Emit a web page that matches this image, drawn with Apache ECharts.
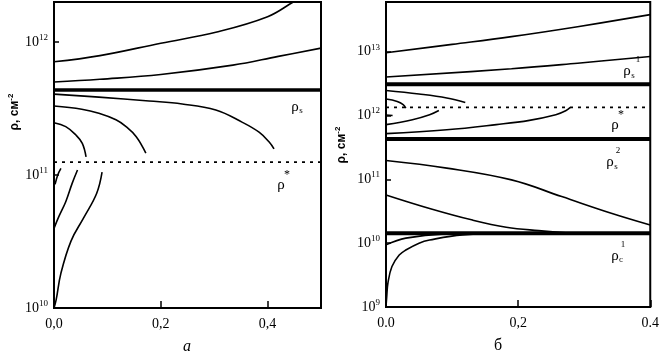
<!DOCTYPE html>
<html>
<head>
<meta charset="utf-8">
<script src="https://cdn.jsdelivr.net/npm/echarts@6/dist/echarts.min.js"></script>
<style>
html, body {margin:0; padding:0; background:#fff;}
#chart {width:662px; height:358px;}
</style>
</head>
<body>
<div id="chart"></div>
<script>
// panel a
var xTicksA = ['0,0', '0,2', '0,4'];
var yExpA = [10, 11, 12];
var rhoSA = 4.35e11;
var rhoStarA = 1.25e11;
var aUp1 = [[0, 7.1e11], [0.086, 7.9e11], [0.2, 9.8e11], [0.305, 1.19e12], [0.4, 1.55e12], [0.448, 2.0e12], [0.47, 2.25e12]];
var aUp2 = [[0, 5.0e11], [0.086, 5.25e11], [0.2, 5.7e11], [0.335, 6.7e11], [0.42, 7.8e11], [0.5, 9.0e11]];
var aDn1 = [[0, 4.06e11], [0.084, 3.85e11], [0.178, 3.6e11], [0.24, 3.42e11], [0.303, 3.08e11], [0.352, 2.5e11], [0.384, 2.1e11], [0.403, 1.77e11], [0.412, 1.57e11]];
var aDn2 = [[0, 3.3e11], [0.052, 3.12e11], [0.084, 2.91e11], [0.116, 2.6e11], [0.135, 2.31e11], [0.154, 1.94e11], [0.172, 1.46e11]];
var aDn3 = [[0, 2.47e11], [0.022, 2.31e11], [0.041, 2.0e11], [0.053, 1.73e11], [0.06, 1.37e11]];
var aLo1 = [[0.002, 8.5e10], [0.007, 1.0e11], [0.013, 1.12e11]];
var aLo2 = [[0, 3.97e10], [0.009, 4.86e10], [0.022, 6.3e10], [0.034, 8.65e10], [0.044, 1.09e11]];
var aLo3 = [[0, 1.0e10], [0.004, 1.15e10], [0.013, 1.83e10], [0.032, 3.2e10], [0.056, 4.8e10], [0.08, 7.3e10], [0.09, 1.05e11]];

// panel б
var xTicksB = ['0.0', '0,2', '0.4'];
var yExpB = [9, 10, 11, 12, 13];
var rhoS1B = 3.1e12;
var rhoStarB = 1.34e12;
var rhoS2B = 4.27e11;
var rhoC1B = 1.43e10;
var bUp1 = [[0, 9.6e12], [0.1, 1.3e13], [0.19, 1.72e13], [0.29, 2.46e13], [0.4, 3.8e13]];
var bUp2 = [[0, 4.0e12], [0.19, 5.4e12], [0.29, 6.6e12], [0.4, 8.4e12]];
var bMid1 = [[0, 2.47e12], [0.05, 2.17e12], [0.092, 1.88e12], [0.12, 1.6e12]];
var bMid2 = [[0, 1.81e12], [0.017, 1.66e12], [0.026, 1.48e12], [0.03, 1.31e12]];
var bMid3 = [[0, 1.02e12], [0.01, 1.0e12]];
var bMid4 = [[0, 7.2e11], [0.04, 8.6e11], [0.066, 1.03e12], [0.08, 1.2e12]];
var bMid5 = [[0, 5.2e11], [0.092, 5.97e11], [0.167, 7.2e11], [0.217, 8.4e11], [0.257, 1.03e12], [0.272, 1.19e12], [0.279, 1.34e12]];
var bLow1 = [[0, 1.97e11], [0.092, 1.5e11], [0.19, 9.8e10], [0.266, 5.37e10], [0.341, 2.95e10], [0.4, 1.93e10]];
var bLow2 = [[0, 5.7e10], [0.066, 3.5e10], [0.131, 2.3e10], [0.182, 1.78e10], [0.231, 1.57e10], [0.272, 1.46e10], [0.3, 1.44e10]];
var bLow3 = [[0, 9.4e9], [0.03, 1.2e10], [0.09, 1.4e10], [0.15, 1.43e10]];
var bLow4 = [[0, 1.0e9], [0.001, 1.4e9], [0.003, 2.4e9], [0.009, 4.3e9], [0.02, 6.5e9], [0.03, 7.8e9], [0.05, 1.0e10], [0.066, 1.12e10], [0.116, 1.35e10], [0.19, 1.43e10]];

var serif = "'Liberation Serif', 'Times New Roman', serif";

function curve(idx, data, w, dash) {
    return {
        type: 'line', xAxisIndex: idx, yAxisIndex: idx, data: data,
        symbol: 'none', smooth: 0.4, silent: true, animation: false,
        lineStyle: {color: '#000', width: w || 1.6, type: dash || 'solid'}
    };
}

function level(idx, v, xmax, w, dash) {
    var s = curve(idx, [[0, v], [xmax, v]], w, dash);
    s.smooth = false;
    return s;
}

function xAxisCfg(idx, max, labels) {
    return {
        type: 'value', gridIndex: idx, min: 0, max: max, interval: 0.2,
        splitLine: {show: false}, axisLine: {show: false},
        axisTick: {inside: true, length: 7, lineStyle: {color: '#000', width: 1.5}},
        axisLabel: {
            margin: 9, color: '#000', fontFamily: serif, fontSize: 14, showMaxLabel: true,
            formatter: function (v) {
                var i = Math.round(v / 0.2);
                if (Math.abs(v - i * 0.2) > 1e-6) return '';
                return labels[i] || '';
            }
        }
    };
}

function yAxisCfg(idx, min, max, exps, margin) {
    return {
        type: 'log', gridIndex: idx, min: min, max: max, logBase: 10,
        splitLine: {show: false}, axisLine: {show: false},
        axisTick: {inside: true, length: 5, lineStyle: {color: '#000', width: 1.5}},
        axisLabel: {
            margin: margin, color: '#000',
            formatter: function (v) {
                var e = Math.log10(v);
                var r = Math.round(e);
                if (Math.abs(e - r) > 0.01 || exps.indexOf(r) < 0) return '';
                return '{b|10}{s|' + r + '}';
            },
            rich: {
                b: {fontFamily: serif, fontSize: 14, color: '#000', lineHeight: 18},
                s: {fontFamily: serif, fontSize: 9, color: '#000', lineHeight: 8, verticalAlign: 'top'}
            }
        }
    };
}

function txt(x, y, s, size, extra) {
    var st = {text: s, x: 0, y: 0, fill: '#000', align: 'center', verticalAlign: 'middle',
        font: (extra || '') + ' ' + size + 'px ' + serif};
    return {type: 'text', x: x, y: y, silent: true, style: st};
}

var yTitleRich = {
    t: {fontFamily: "'Liberation Sans', Arial, sans-serif", fontWeight: 'bold', fontSize: 12, color: '#000', lineHeight: 16},
    s: {fontFamily: "'Liberation Sans', Arial, sans-serif", fontWeight: 'bold', fontSize: 8, color: '#000', lineHeight: 8, verticalAlign: 'top'}
};

var myChart = echarts.init(document.getElementById('chart'));

var option = {
    backgroundColor: '#fff',
    animation: false,
    grid: [
        {left: 54, top: 2, width: 267, height: 306, show: true, borderColor: '#000', borderWidth: 2, backgroundColor: 'transparent'},
        {left: 386, top: 2, width: 266, height: 305, show: true, borderColor: '#000', borderWidth: 2, backgroundColor: 'transparent'}
    ],
    xAxis: [xAxisCfg(0, 0.5, xTicksA), xAxisCfg(1, 0.4, xTicksB)],
    yAxis: [yAxisCfg(0, 1e10, 2.0e12, yExpA, 6), yAxisCfg(1, 1e9, 6.0e13, yExpB, 6)],
    series: [
        curve(0, aUp1), curve(0, aUp2),
        level(0, rhoSA, 0.5, 3.5),
        curve(0, aDn1), curve(0, aDn2), curve(0, aDn3),
        level(0, rhoStarA, 0.5, 1.6, [3, 5]),
        curve(0, aLo1), curve(0, aLo2), curve(0, aLo3),

        curve(1, bUp1), curve(1, bUp2),
        level(1, rhoS1B, 0.4, 4),
        curve(1, bMid1), curve(1, bMid2), curve(1, bMid3), curve(1, bMid4), curve(1, bMid5),
        level(1, rhoStarB, 0.4, 1.6, [3, 5]),
        level(1, rhoS2B, 0.4, 4),
        curve(1, bLow1), curve(1, bLow2), curve(1, bLow3), curve(1, bLow4),
        level(1, rhoC1B, 0.4, 4)
    ],
    graphic: [
        {type: 'text', x: 15, y: 112, rotation: Math.PI / 2, silent: true,
            style: {text: '{t|ρ, см}{s|-2}', rich: yTitleRich, align: 'center', verticalAlign: 'middle'}},
        {type: 'text', x: 342, y: 145, rotation: Math.PI / 2, silent: true,
            style: {text: '{t|ρ, см}{s|-2}', rich: yTitleRich, align: 'center', verticalAlign: 'middle'}},

        // labels panel a
        txt(295, 107, 'ρ', 15), txt(301, 111, 's', 9),
        txt(281, 185, 'ρ', 15), txt(287, 175, '*', 12),

        // labels panel б
        txt(627, 71, 'ρ', 15), txt(633, 76, 's', 9), txt(638, 60, '1', 9),
        txt(615, 125, 'ρ', 15), txt(621, 115, '*', 12),
        txt(610, 162, 'ρ', 15), txt(616, 167, 's', 9), txt(618, 151, '2', 9),
        txt(615, 256, 'ρ', 15), txt(621, 260, 'c', 9), txt(623, 245, '1', 9),

        txt(187, 347, 'a', 16, 'italic'),
        txt(498, 346, 'б', 16)
    ]
};

myChart.setOption(option);
</script>
</body>
</html>
